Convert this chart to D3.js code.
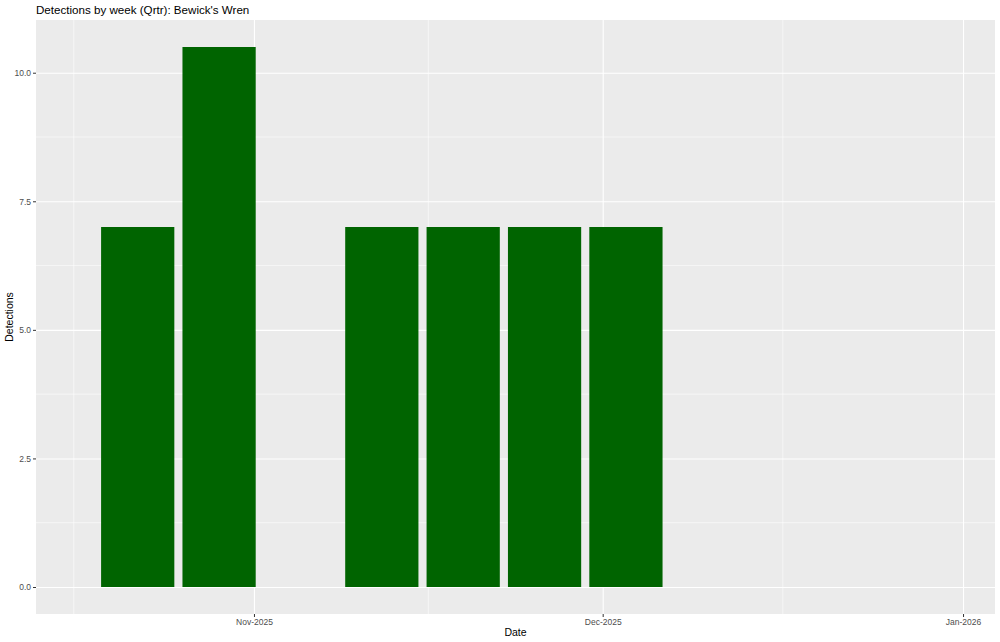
<!DOCTYPE html>
<html>
<head>
<meta charset="utf-8">
<script src="https://cdn.jsdelivr.net/npm/d3@7"></script>
<style>
  body { margin: 0; background: #fff; }
  svg text { font-family: "Liberation Sans", Arial, sans-serif; }
</style>
</head>
<body>
<div id="chart"></div>
<script>
// weekly detections (bar centred on week date)
var weeks = ["2025-10-22", "2025-10-29", "2025-11-12", "2025-11-19", "2025-11-26", "2025-12-03"];
var detections = [7, 10.5, 7, 7, 7, 7];
var yTicks = [0, 2.5, 5, 7.5, 10];
var xTicks = ["2025-11-01", "2025-12-01", "2026-01-01"];
var xMinor = ["2025-10-01", "2025-11-01", "2025-12-01", "2026-01-01"];

var W = 1000, H = 642;
var margin = {top: 20, right: 5, bottom: 28, left: 36};
var width = W - margin.left - margin.right,
    height = H - margin.top - margin.bottom;

var parseDate = d3.utcParse("%Y-%m-%d");
var DAY = 864e5;

var data = weeks.map((w, i) => ({date: parseDate(w), value: detections[i]}));

// limits + ggplot style 5% expansion
var lim = [parseDate("2025-10-17"), parseDate("2025-12-31")];
var span = lim[1] - lim[0];
var xScale = d3.scaleUtc()
    .domain([new Date(+lim[0] - span * 0.05), new Date(+lim[1] + span * 0.05)])
    .range([0, width]);

var yMax = d3.max(detections);
var yScale = d3.scaleLinear()
    .domain([-yMax * 0.05, yMax * 1.05])
    .range([height, 0]);

var svg = d3.select("#chart").append("svg")
    .attr("width", W)
    .attr("height", H);

var g = svg.append("g")
    .attr("transform", "translate(" + margin.left + "," + margin.top + ")");

// panel background
g.append("rect")
    .attr("width", width)
    .attr("height", height)
    .attr("fill", "#EBEBEB");

// minor gridlines
var yMinor = d3.range(0, yTicks.length - 1).map(i => (yTicks[i] + yTicks[i + 1]) / 2);
g.append("g").selectAll("line")
    .data(yMinor)
    .enter().append("line")
    .attr("x1", 0).attr("x2", width)
    .attr("y1", d => yScale(d)).attr("y2", d => yScale(d))
    .attr("stroke", "#fff").attr("stroke-width", 0.55);

var xMinorMid = d3.range(0, xMinor.length - 1).map(i => {
    var a = parseDate(xMinor[i]), b = parseDate(xMinor[i + 1]);
    return new Date((+a + +b) / 2);
});
g.append("g").selectAll("line")
    .data(xMinorMid)
    .enter().append("line")
    .attr("x1", d => xScale(d)).attr("x2", d => xScale(d))
    .attr("y1", 0).attr("y2", height)
    .attr("stroke", "#fff").attr("stroke-width", 0.55);

// major gridlines
g.append("g")
    .call(d3.axisLeft(yScale).tickValues(yTicks).tickSize(-width).tickFormat(""))
    .call(a => a.select(".domain").remove())
    .call(a => a.selectAll("line").attr("stroke", "#fff").attr("stroke-width", 1.1));

g.append("g")
    .call(d3.axisBottom(xScale).tickValues(xTicks.map(parseDate)).tickSize(height).tickFormat(""))
    .call(a => a.select(".domain").remove())
    .call(a => a.selectAll("line").attr("stroke", "#fff").attr("stroke-width", 1.1));

// bars (0.9 of a week wide)
var barW = 7 * DAY * 0.9;
g.selectAll(".bar")
    .data(data)
    .enter().append("rect")
    .attr("class", "bar")
    .attr("x", d => xScale(new Date(+d.date - barW / 2)))
    .attr("width", d => xScale(new Date(+d.date + barW / 2)) - xScale(new Date(+d.date - barW / 2)))
    .attr("y", d => yScale(d.value))
    .attr("height", d => yScale(0) - yScale(d.value))
    .attr("fill", "#006400");

// axes
var yAxis = g.append("g")
    .call(d3.axisLeft(yScale).tickValues(yTicks).tickFormat(d3.format(".1f")).tickSize(3).tickPadding(2));
yAxis.select(".domain").remove();
yAxis.selectAll("line").attr("stroke", "#333");
yAxis.selectAll("text").attr("fill", "#4D4D4D").style("font-size", "8.5px");

var xAxis = g.append("g")
    .attr("transform", "translate(0," + height + ")")
    .call(d3.axisBottom(xScale).tickValues(xTicks.map(parseDate))
        .tickFormat(d3.utcFormat("%b-%Y")).tickSize(3).tickPadding(2));
xAxis.select(".domain").remove();
xAxis.selectAll("line").attr("stroke", "#333");
xAxis.selectAll("text").attr("fill", "#4D4D4D").style("font-size", "8.5px");

// titles
svg.append("text")
    .attr("x", margin.left)
    .attr("y", 14)
    .style("font-size", "11.6px")
    .attr("fill", "#000")
    .text("Detections by week (Qrtr): Bewick's Wren");

svg.append("text")
    .attr("x", margin.left + width / 2)
    .attr("y", 636)
    .attr("text-anchor", "middle")
    .style("font-size", "10.5px")
    .text("Date");

svg.append("text")
    .attr("transform", "translate(13," + (margin.top + height / 2) + ") rotate(-90)")
    .attr("text-anchor", "middle")
    .style("font-size", "10.5px")
    .text("Detections");
</script>
</body>
</html>
